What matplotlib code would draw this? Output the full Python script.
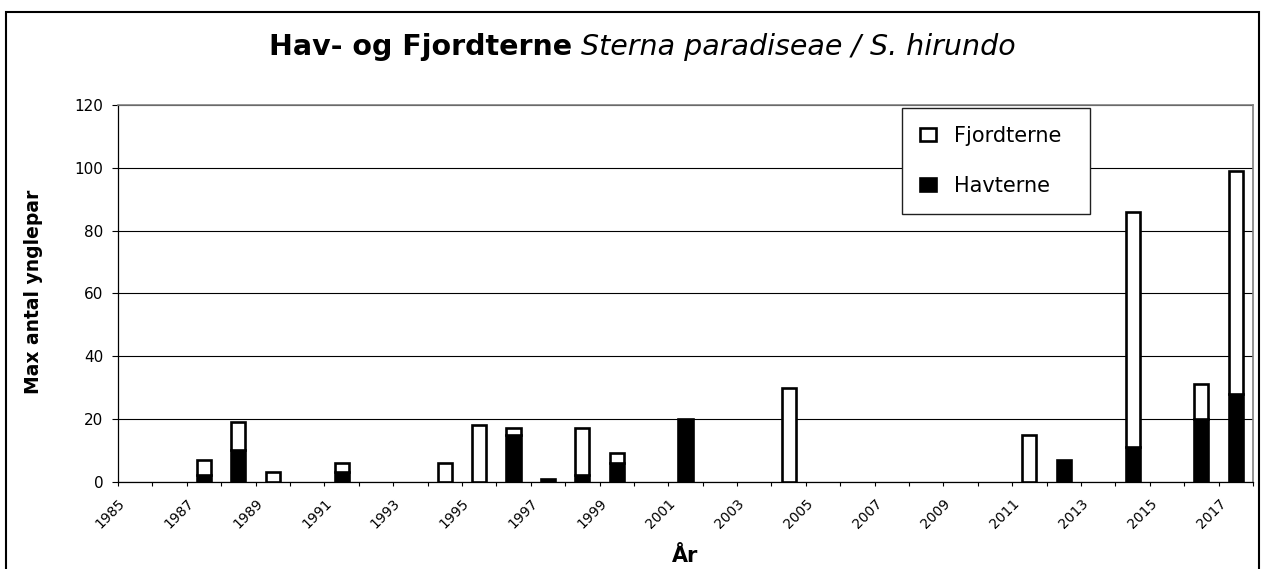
import matplotlib
matplotlib.use('Agg')
import matplotlib.pyplot as plt
import numpy as np
from matplotlib.patches import Rectangle

# ---- data ----
years = list(range(1985, 2018))
havterne = [0, 0, 2, 10, 0, 0, 3, 0, 0, 0,      # 1985-1994
            0, 15, 1, 2, 6, 0, 20, 0, 0, 0,     # 1995-2004
            0, 0, 0, 0, 0, 0, 0, 7, 0, 11,      # 2005-2014
            0, 20, 28]                          # 2015-2017
fjordterne = [0, 0, 5, 9, 3, 0, 3, 0, 0, 6,     # 1985-1994
              18, 2, 0, 15, 3, 0, 0, 0, 0, 30,  # 1995-2004
              0, 0, 0, 0, 0, 0, 15, 0, 0, 75,   # 2005-2014
              0, 11, 71]                        # 2015-2017
series_names = ["Fjordterne", "Havterne"]
title_bold = "Hav- og Fjordterne"
title_italic = " Sterna paradiseae / S. hirundo"
y_label = "Max antal ynglepar"
x_label = "År"
y_ticks = [0, 20, 40, 60, 80, 100, 120]

plt.rcParams['font.family'] = ['DejaVu Sans']

W, H = 1263, 569
DPI = 100
fig = plt.figure(figsize=(W / DPI, H / DPI), dpi=DPI, facecolor='white')

def fx(px):
    return px / W

def fy(py):
    return 1 - py / H

# plot area in pixels
L, R, T, B = 118, 1253, 105, 481.7
ax = fig.add_axes([fx(L), fy(B), fx(R - L), (B - T) / H])

x = np.arange(len(years))
h = np.array(havterne, dtype=float)
f = np.array(fjordterne, dtype=float)

lw_bar = 1.9
bw = 0.41
mh = h > 0
bh = ax.bar(x[mh], h[mh], width=bw, color='black', edgecolor='black',
            linewidth=lw_bar, zorder=3)
mf = f > 0
bf = ax.bar(x[mf], f[mf], bottom=h[mf], width=bw, color='white',
            edgecolor='black', linewidth=lw_bar, zorder=3)

ax.set_xlim(-0.5, len(years) - 0.5)
ax.set_ylim(0, 120)
ax.set_yticks(y_ticks)
ax.set_yticklabels([str(v) for v in y_ticks], fontsize=11)
ax.yaxis.grid(True, color='black', linewidth=0.8, zorder=0)
ax.set_axisbelow(True)

# category boundaries as ticks; label every other year at the left boundary
bounds = np.arange(len(years) + 1) - 0.5
labels = [str(years[k]) if (k < len(years) and k % 2 == 0) else '' for k in range(len(years) + 1)]
ax.set_xticks(bounds)
ax.set_xticklabels(labels, fontsize=10, rotation=45, ha='right', va='top',
                   rotation_mode='anchor')
ax.tick_params(axis='x', direction='out', length=2.9, width=0.8, pad=7.5, color='black')
ax.tick_params(axis='y', direction='out', length=4.5, width=0.8, pad=6.0, color='black')

for s in ['left', 'bottom']:
    ax.spines[s].set_color('black')
    ax.spines[s].set_linewidth(0.9)
for s in ['top', 'right']:
    ax.spines[s].set_color('#808080')
    ax.spines[s].set_linewidth(1.2)

# legend
fs_leg = 15
leg = ax.legend([bf, bh], series_names, loc='upper left',
                bbox_to_anchor=(fx(902), fy(108) - 0.01, fx(1090 - 902), 0.01),
                bbox_transform=fig.transFigure, mode='expand', borderaxespad=0,
                fontsize=fs_leg, frameon=True, fancybox=False, framealpha=1,
                edgecolor='#202020', borderpad=0.85, labelspacing=1.45,
                handlelength=0.8, handleheight=0.55, handletextpad=0.85)
leg.get_frame().set_linewidth(1.0)

# axis titles
fig.text(fx(34), fy(292), y_label, rotation=90, ha='center', va='center',
         fontsize=13.5, fontweight='bold')
fig.text(fx(685.5), fy(562), x_label, ha='center', va='baseline',
         fontsize=15, fontweight='bold')

# title in two styles
t1 = fig.text(0, fy(55), title_bold, ha='left', va='baseline', fontsize=20.5, fontweight='bold')
t2 = fig.text(0, fy(55), title_italic, ha='left', va='baseline', fontsize=20.5, fontstyle='italic')
fig.canvas.draw()
r = fig.canvas.get_renderer()
w1 = t1.get_window_extent(r).width
w2 = t2.get_window_extent(r).width
cx = 642
x1 = cx - (w1 + w2) / 2
t1.set_x(fx(x1))
t2.set_x(fx(x1 + w1))

# outer chart border
fig.patches.append(Rectangle((fx(6), fy(H + 20)), fx(1259 - 6), (H + 20 - 12) / H,
                             transform=fig.transFigure, fill=False,
                             edgecolor='black', linewidth=1.5, clip_on=False))

fig.savefig('out.png', dpi=DPI, facecolor='white')
